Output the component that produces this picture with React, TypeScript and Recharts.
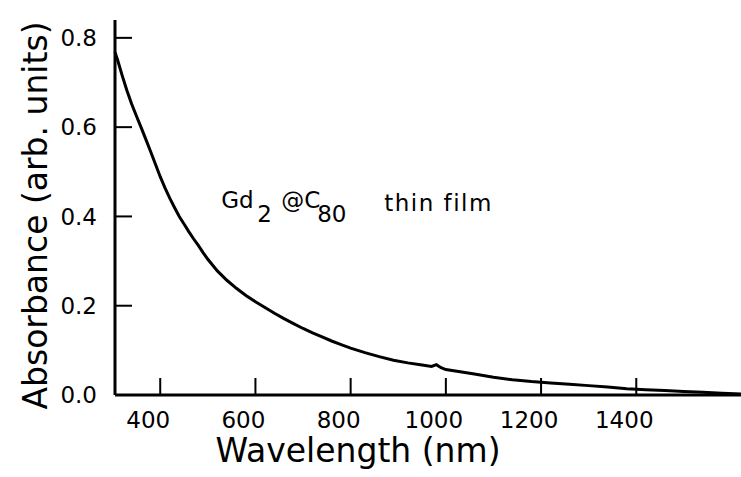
import { LineChart, Line, XAxis, YAxis, ReferenceDot } from "recharts";

// absorbance spectrum of the Gd2@C80 thin film
const wavelength = [
  305, 310, 320, 330, 340, 350, 360, 370, 380, 390, 400, 410, 420, 430, 440,
  450, 460, 470, 480, 490, 500, 520, 540, 560, 580, 600, 620, 640, 660, 680,
  700, 720, 740, 760, 780, 800, 830, 860, 890, 920, 950, 970, 980, 990, 1000,
  1030, 1060, 1100, 1140, 1180, 1220, 1260, 1300, 1340, 1380, 1420, 1460,
  1500, 1540, 1580, 1620,
];
const absorbance = [
  0.768, 0.752, 0.716, 0.682, 0.652, 0.625, 0.599, 0.572, 0.545, 0.517, 0.489,
  0.464, 0.441, 0.42, 0.4, 0.383, 0.366, 0.35, 0.335, 0.319, 0.304, 0.278,
  0.257, 0.239, 0.223, 0.209, 0.196, 0.183, 0.171, 0.16, 0.149, 0.139, 0.13,
  0.121, 0.113, 0.105, 0.095, 0.086, 0.078, 0.072, 0.067, 0.064, 0.068, 0.061,
  0.057, 0.052, 0.047, 0.04, 0.034, 0.03, 0.027, 0.024, 0.021, 0.018, 0.014,
  0.012, 0.01, 0.008, 0.006, 0.004, 0.002,
];
const xTicks = [400, 600, 800, 1000, 1200, 1400];
const yTicks = [0, 0.2, 0.4, 0.6, 0.8];

const data = wavelength.map((w, i) => ({ w, a: absorbance[i] }));

const FONT = "'DejaVu Sans', Verdana, sans-serif";

const YTick = ({ x, y, payload }: any) => (
  <g>
    <line x1={x + 18} x2={x + 35} y1={y} y2={y} stroke="#000" strokeWidth={2} />
    <text x={x} y={y} dy="0.36em" textAnchor="end" fontSize={23} fontFamily={FONT} fill="#000">
      {payload.value.toFixed(1)}
    </text>
  </g>
);

const XTick = ({ x, y, payload }: any) => (
  <g>
    <line x1={x} x2={x} y1={y - 16} y2={y - 33} stroke="#000" strokeWidth={2} />
    <text x={x - 12} y={y} dy="0.72em" textAnchor="middle" fontSize={23} fontFamily={FONT} fill="#000">
      {payload.value}
    </text>
  </g>
);

const YLabel = ({ viewBox }: any) => {
  const cx = viewBox.x + 47;
  const cy = viewBox.y + viewBox.height / 2 + 8;
  return (
    <text x={cx} y={cy} transform={`rotate(-90 ${cx} ${cy})`} textAnchor="middle" fontSize={33} fontFamily={FONT} fill="#000">
      Absorbance (arb. units)
    </text>
  );
};

const XLabel = ({ viewBox }: any) => (
  <text x={358} y={viewBox.y + 67} textAnchor="middle" fontSize={33} fontFamily={FONT} fill="#000">
    Wavelength (nm)
  </text>
);

const Annotation = ({ viewBox }: any) => {
  const x = viewBox.x;
  const y = viewBox.y;
  return (
    <text fontSize={23} fontFamily={FONT} fill="#000">
      <tspan x={x} y={y - 8}>Gd</tspan>
      <tspan x={x + 36} y={y + 6}>2</tspan>
      <tspan x={x + 60} y={y - 8}>@C</tspan>
      <tspan x={x + 96} y={y + 6}>80</tspan>
      <tspan x={x + 163} y={y - 5} letterSpacing={1.5}>thin film</tspan>
    </text>
  );
};

function wrap(C: any) {
  return (props: any) => <C {...props} />;
}

export default function App() {
  return (
    <div style={{ position: "absolute", left: 0, top: 0, background: "#fff" }}>
      <LineChart width={741} height={477} data={data} margin={{ top: 20, right: 0, bottom: 0, left: 0 }}>
        <XAxis
          dataKey="w"
          type="number"
          domain={[305, 1620]}
          ticks={xTicks}
          tick={<XTick />}
          tickSize={0}
          tickMargin={16}
          height={82}
          axisLine={{ stroke: "#000", strokeWidth: 3 }}
          label={wrap(XLabel)}
        />
        <YAxis
          type="number"
          domain={[0, 0.84]}
          ticks={yTicks}
          tick={<YTick />}
          tickSize={0}
          tickMargin={18}
          width={115}
          axisLine={{ stroke: "#000", strokeWidth: 3 }}
          label={wrap(YLabel)}
        />
        <Line
          dataKey="a"
          type="linear"
          stroke="#000"
          strokeWidth={3}
          dot={false}
          isAnimationActive={false}
        />
        <ReferenceDot x={528} y={0.4} r={0} fill="none" stroke="none" label={wrap(Annotation)} />
      </LineChart>
    </div>
  );
}
